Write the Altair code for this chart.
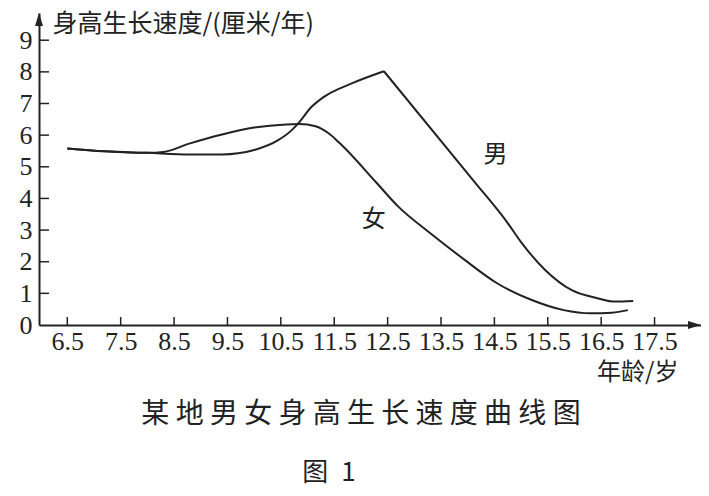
import altair as alt
import pandas as pd

# ---- data ----
female_age = [6.5, 7.2, 8.0, 8.3, 8.8, 9.4, 10.0, 10.6, 10.85, 11.15, 11.4, 11.6,
              12.3, 12.7, 13.3, 13.95, 14.55, 15.2, 15.8, 16.3, 16.7, 17.0]
female_val = [5.58, 5.49, 5.44, 5.47, 5.74, 6.02, 6.24, 6.34, 6.35, 6.28, 6.05, 5.75,
              4.48, 3.74, 2.9, 2.05, 1.32, 0.79, 0.47, 0.37, 0.39, 0.47]

male_up_age = [6.5, 7.2, 8.0, 8.8, 9.4, 10.0, 10.45, 10.7, 10.85, 11.05, 11.3, 11.85, 12.43]
male_up_val = [5.58, 5.49, 5.44, 5.39, 5.39, 5.53, 5.84, 6.15, 6.42, 6.85, 7.2, 7.65, 8.02]

male_down_age = [12.43, 14.1, 14.75, 15.0, 15.45, 15.95, 16.45, 16.75, 17.1]
male_down_val = [8.02, 4.58, 3.22, 2.62, 1.74, 1.1, 0.84, 0.74, 0.76]

x_ticks = [6.5, 7.5, 8.5, 9.5, 10.5, 11.5, 12.5, 13.5, 14.5, 15.5, 16.5, 17.5]
y_ticks = [0, 1, 2, 3, 4, 5, 6, 7, 8, 9]
x_domain = [5.97, 18.37]
y_domain = [0, 9.86]

label_text = ["男", "女"]
label_age = [14.52, 12.24]
label_val = [5.37, 3.32]

y_title = "身高生长速度/(厘米/年)"
x_title = "年龄/岁"
caption = "某地男女身高生长速度曲线图"
fig_no = "图 1"

# ---- build tables ----
rows = []
for name, ages, vals in [("女", female_age, female_val),
                         ("男上", male_up_age, male_up_val),
                         ("男下", male_down_age, male_down_val)]:
    for i, (a, v) in enumerate(zip(ages, vals)):
        rows.append({"series": name, "age": a, "val": v, "idx": i})
lines_df = pd.DataFrame(rows)

INK = "#222222"
CJK = "Noto Sans CJK SC"
SERIF = "Liberation Serif"
W, H = 662, 312

xs = alt.Scale(domain=x_domain, nice=False, zero=False)
ys = alt.Scale(domain=y_domain, nice=False, zero=False)

x_axis = alt.Axis(values=x_ticks, format=".1f", ticks=False, grid=False,
                  domainColor=INK, domainWidth=2, labelFont=SERIF, labelFontSize=26,
                  labelColor=INK, labelPadding=3, labelFlush=False, labelOverlap=False,
                  title=x_title, titleFont=CJK, titleFontSize=24, titleFontWeight="normal",
                  titleColor=INK, titleAlign="right", titleBaseline="middle",
                  titleX=639, titleY=47)
y_axis = alt.Axis(values=y_ticks, format="d", ticks=False, grid=False,
                  domainColor=INK, domainWidth=2, labelFont=SERIF, labelFontSize=26,
                  labelColor=INK, labelPadding=7, labelBaseline="middle",
                  title=y_title, titleFont=CJK, titleFontSize=25, titleFontWeight="normal",
                  titleColor=INK, titleAngle=0, titleAlign="left", titleBaseline="middle",
                  titleX=13, titleY=10)


def X(field):
    return alt.X(field, scale=xs, axis=x_axis)


def Y(field):
    return alt.Y(field, scale=ys, axis=y_axis)


lines = alt.Chart(lines_df).mark_line(color=INK, strokeWidth=2, interpolate="monotone").encode(
    x=X("age:Q"), y=Y("val:Q"),
    detail="series:N",
    order="idx:Q",
)

xt = alt.Chart(pd.DataFrame({"age": x_ticks})).mark_rule(color=INK, strokeWidth=1.5).encode(
    x=X("age:Q"), y=alt.value(H), y2=alt.value(H - 8),
)
yt = alt.Chart(pd.DataFrame({"val": y_ticks[1:]})).mark_rule(color=INK, strokeWidth=1.5).encode(
    y=Y("val:Q"), x=alt.value(0), x2=alt.value(10),
)

up_arrow = alt.Chart(pd.DataFrame({"age": [x_domain[0]], "val": [y_domain[1]]})).mark_point(
    shape="M0,0 L-0.4,1.3 L0.4,1.3 Z", filled=True, size=400, opacity=1, color=INK, strokeWidth=0
).encode(x=X("age:Q"), y=Y("val:Q"))
right_arrow = alt.Chart(pd.DataFrame({"age": [x_domain[1]], "val": [y_domain[0]]})).mark_point(
    shape="M0,0 L-1.3,-0.4 L-1.3,0.4 Z", filled=True, size=400, opacity=1, color=INK, strokeWidth=0
).encode(x=X("age:Q"), y=Y("val:Q"))

labels = alt.Chart(pd.DataFrame({"t": label_text, "age": label_age, "val": label_val})).mark_text(
    font=CJK, fontSize=24, color=INK, align="center", baseline="middle"
).encode(x=X("age:Q"), y=Y("val:Q"), text="t:N")

cap = alt.Chart(pd.DataFrame({"c": [" ".join(caption)]})).mark_text(
    font=CJK, fontSize=28, color=INK, align="center", baseline="middle"
).encode(x=alt.value(322), y=alt.value(402), text="c:N")
fig = alt.Chart(pd.DataFrame({"c": [fig_no.replace(" ", "\u2002")]})).mark_text(
    font=CJK, fontSize=26, color=INK, align="center", baseline="middle"
).encode(x=alt.value(290), y=alt.value(460), text="c:N")

chart = alt.layer(lines, xt, yt, up_arrow, right_arrow, labels, cap, fig).properties(
    width=W, height=H,
    autosize=alt.AutoSizeParams(type="none"),
    padding={"left": 31, "top": 5, "right": 0, "bottom": 163},
    background="white",
).configure_view(stroke=None)

chart.save("out.html", embed_options={"renderer": "svg", "actions": False})
